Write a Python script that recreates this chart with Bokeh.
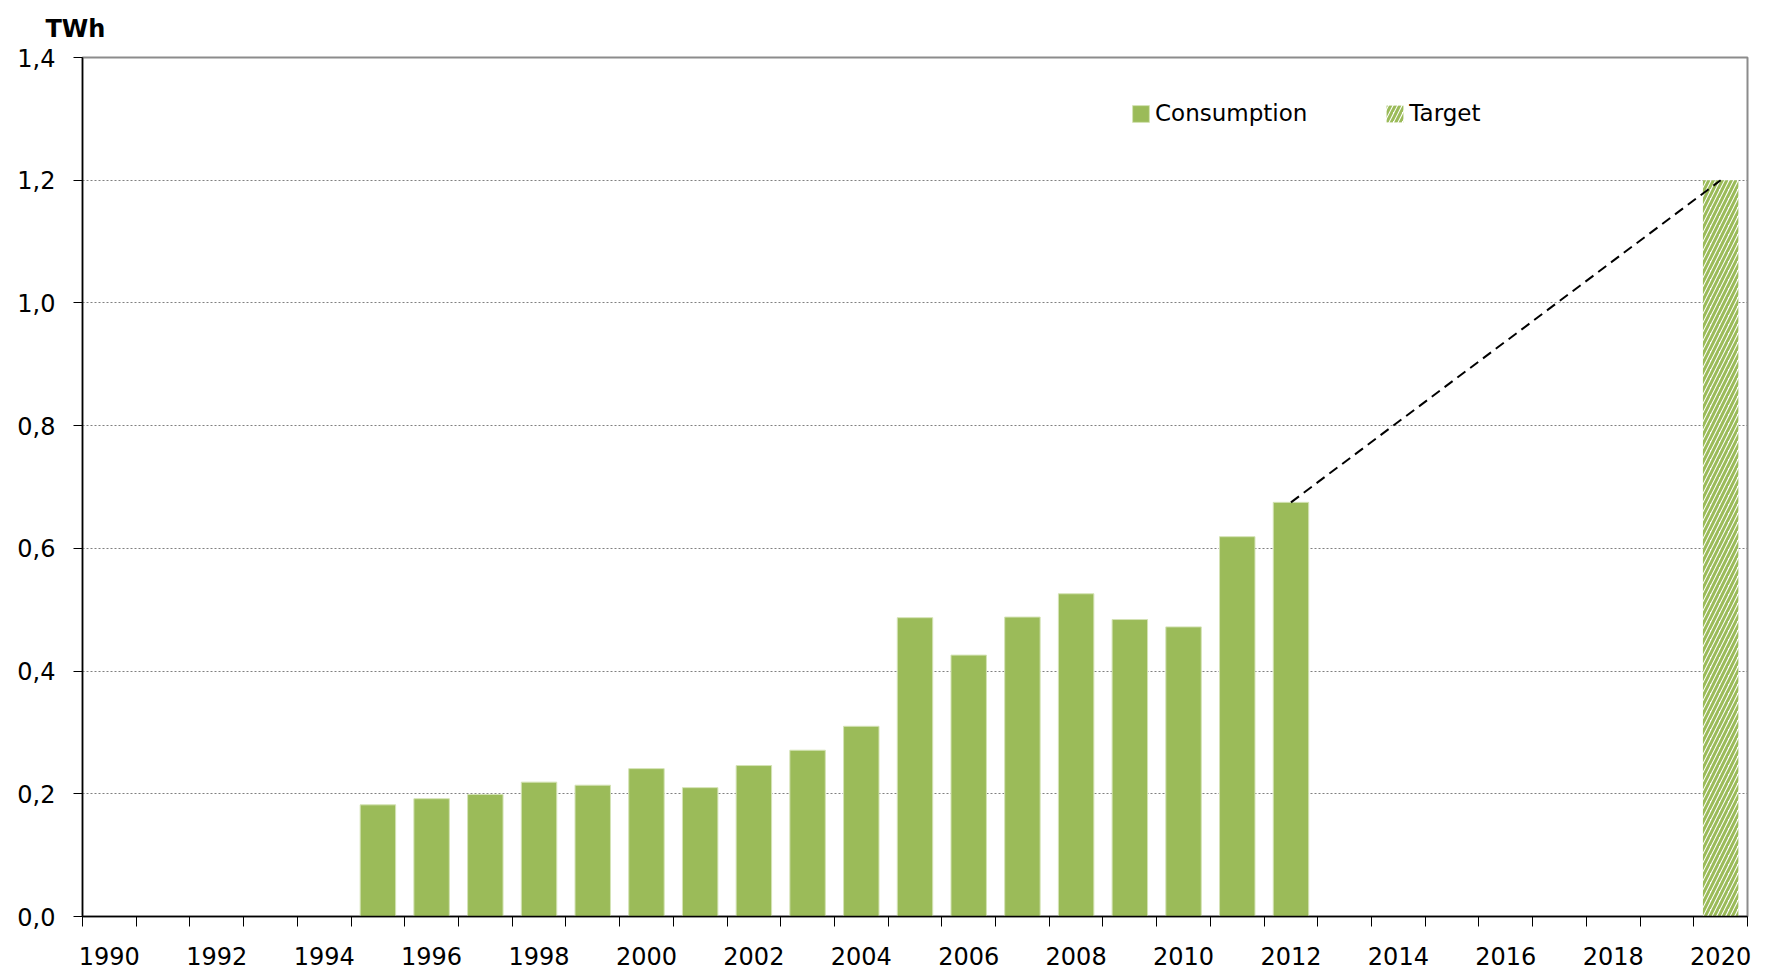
from bokeh.plotting import figure
from bokeh.models import (Range1d, FixedTicker, CustomJSTickFormatter, Legend,
                          LegendItem, Title, ColumnDataSource)
from bokeh.embed import file_html
from bokeh.resources import INLINE

# ---- data ----
years = [1995, 1996, 1997, 1998, 1999, 2000, 2001, 2002, 2003, 2004,
         2005, 2006, 2007, 2008, 2009, 2010, 2011, 2012]
consumption = [0.182, 0.192, 0.199, 0.219, 0.214, 0.241, 0.210, 0.246, 0.271, 0.310,
               0.487, 0.426, 0.488, 0.526, 0.484, 0.472, 0.619, 0.675]
target_years = [2020]
target_values = [1.2]
label_years = list(range(1990, 2021, 2))
all_years = list(range(1990, 2021))
y_ticks = [0.0, 0.2, 0.4, 0.6, 0.8, 1.0, 1.2, 1.4]

FONT = "DejaVu Sans"
GREEN = "#9BBB59"

W, H = 1771, 970
BL, BR, BT, BB = 82, 24, 57, 54

p = figure(width=W, height=H, output_backend="svg", toolbar_location=None,
           x_range=Range1d(all_years[0] - 0.5, all_years[-1] + 0.5),
           y_range=Range1d(y_ticks[0], y_ticks[-1]),
           min_border_left=BL, min_border_right=BR, min_border_top=BT,
           min_border_bottom=BB, background_fill_color="white",
           border_fill_color="white")

p.outline_line_color = "#8c8c8c"
p.outline_line_width = 2

src = ColumnDataSource(dict(x=years, top=consumption))
r_cons = p.vbar(x="x", top="top", width=0.66, source=src, fill_color=GREEN,
                line_color="#d4e3b5", line_width=1)

tsrc = ColumnDataSource(dict(x=target_years, top=target_values))
r_targ = p.vbar(x="x", top="top", width=0.66, source=tsrc, fill_color="white",
                line_color=None, hatch_pattern="/", hatch_color=GREEN,
                hatch_scale=9, hatch_weight=3)

p.line(x=[years[-1], target_years[0]], y=[consumption[-1], target_values[0]],
       line_color="black", line_width=2, line_dash="10 6")

# x axis
xa = p.xaxis[0]
xa.ticker = FixedTicker(ticks=label_years,
                        minor_ticks=[y - 0.5 for y in all_years] + [all_years[-1] + 0.5])
xa.major_tick_line_color = None
xa.major_tick_out = 0
xa.major_tick_in = 0
xa.minor_tick_out = 10
xa.minor_tick_in = 0
xa.minor_tick_line_color = "black"
xa.minor_tick_line_width = 1
xa.axis_line_color = "black"
xa.axis_line_width = 1.5
xa.major_label_text_font = FONT
xa.major_label_text_font_size = "24px"
xa.major_label_text_color = "black"
xa.major_label_standoff = 20

# y axis
ya = p.yaxis[0]
ya.ticker = FixedTicker(ticks=y_ticks, minor_ticks=[])
ya.formatter = CustomJSTickFormatter(code="return tick.toFixed(1).replace('.', ',');")
ya.major_tick_out = 9
ya.major_tick_in = 0
ya.major_tick_line_color = "black"
ya.axis_line_color = "black"
ya.axis_line_width = 1.5
ya.major_label_text_font = FONT
ya.major_label_text_font_size = "24px"
ya.major_label_text_color = "black"
ya.major_label_standoff = 18

p.xgrid.visible = False
p.ygrid.ticker = FixedTicker(ticks=y_ticks[1:-1])
p.ygrid.grid_line_color = "#808080"
p.ygrid.grid_line_dash = "2 2"
p.ygrid.grid_line_width = 1

p.add_layout(Title(text="TWh", align="left", offset=-37, standoff=26,
                   vertical_align="top",
                   text_font=FONT, text_font_size="24px", text_font_style="bold",
                   text_color="black"), "above")

legend = Legend(items=[LegendItem(label="Consumption", renderers=[r_cons]),
                       LegendItem(label="Target", renderers=[r_targ])],
                orientation="horizontal", location=(1048, 790),
                padding=0, margin=0, spacing=77, glyph_width=21, glyph_height=21,
                label_standoff=4, label_text_font=FONT, label_text_font_size="23px",
                label_text_color="black", border_line_alpha=0,
                background_fill_alpha=0)
p.add_layout(legend)

open("out.html", "w").write(file_html(p, INLINE))
